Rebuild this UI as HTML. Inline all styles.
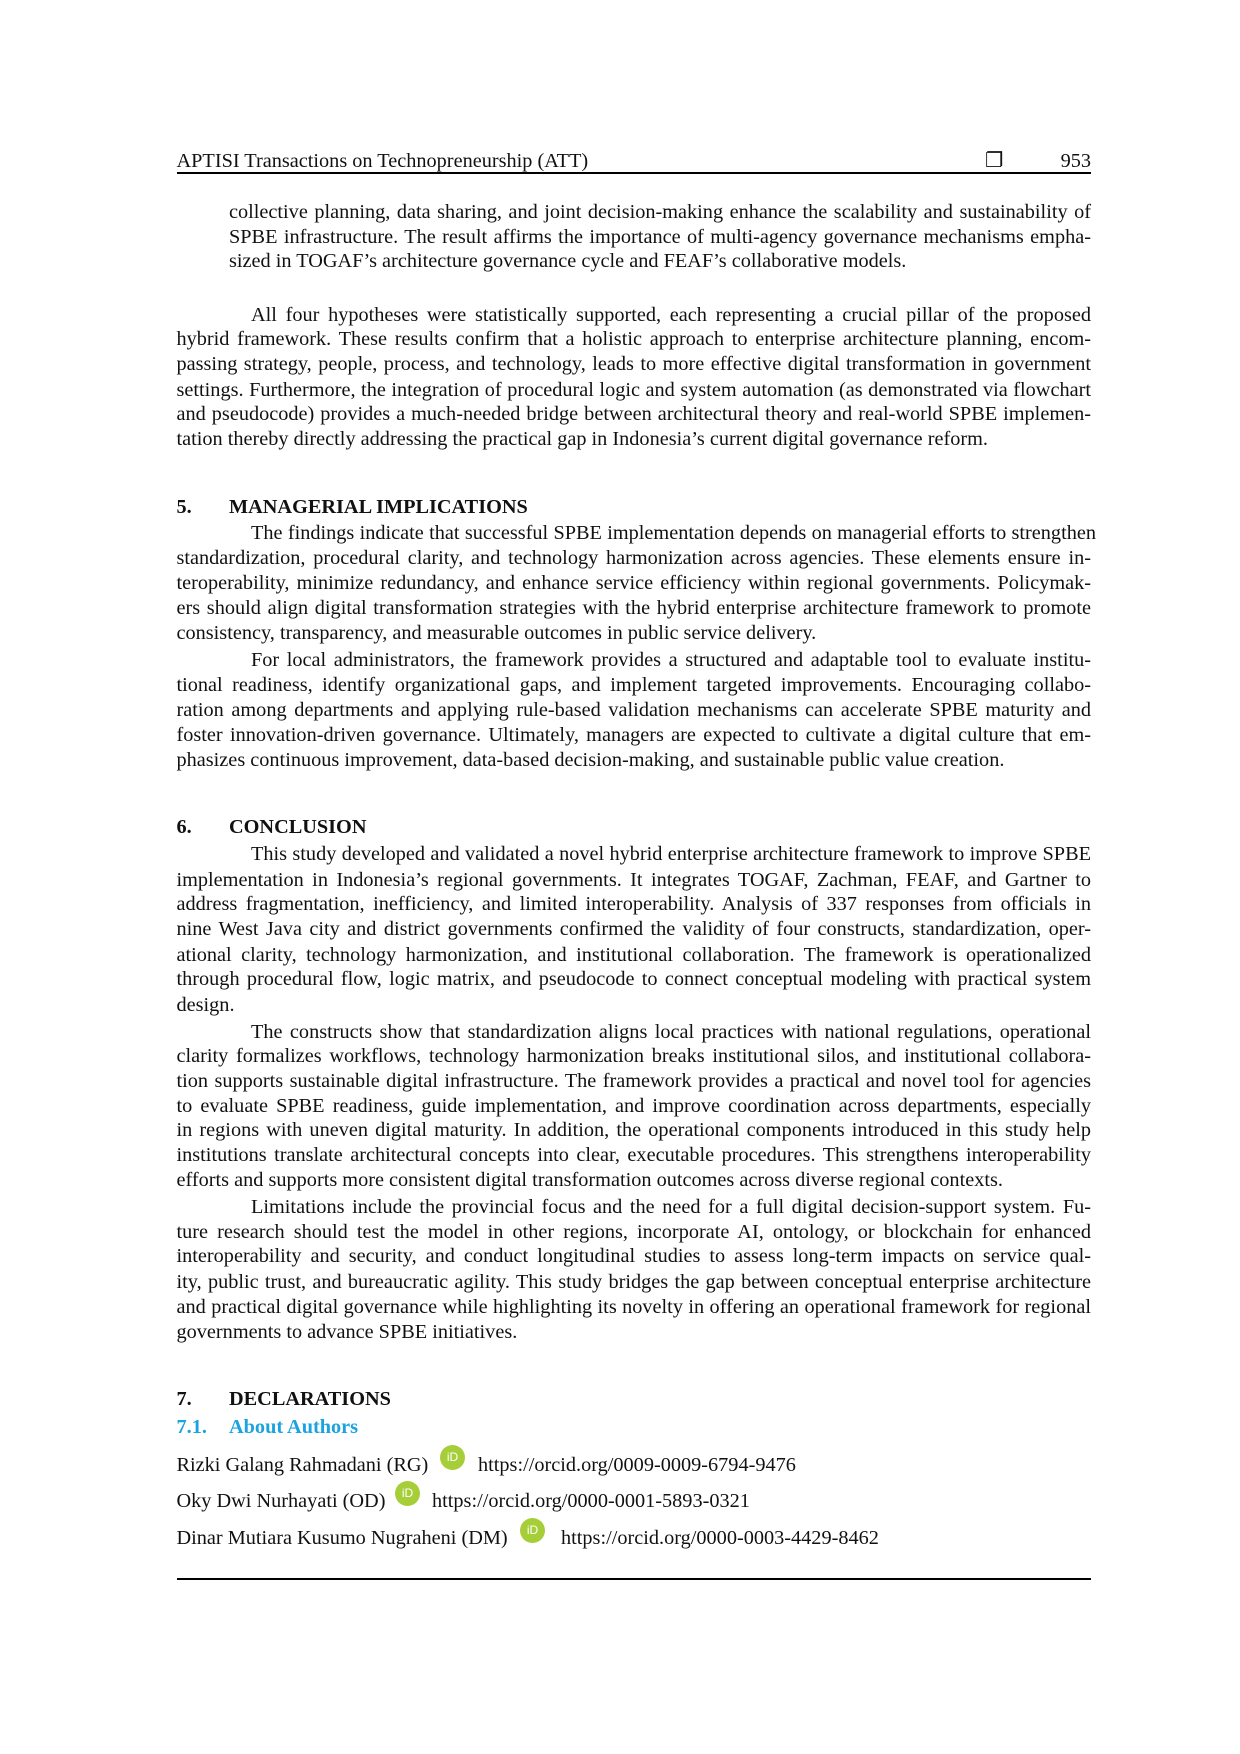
<!DOCTYPE html>
<html><head><meta charset="utf-8">
<style>
html,body{margin:0;padding:0;background:#fff;}
body{width:1240px;height:1754px;position:relative;overflow:hidden;font-family:"Liberation Serif",serif;font-size:20.3px;color:#111;}
#w{position:absolute;left:0;top:3px;width:1240px;height:1750px;}
.l{position:absolute;left:176.5px;width:914.5px;height:24px;line-height:24px;white-space:nowrap;}
.j{text-align:justify;text-align-last:justify;white-space:normal;word-spacing:-1.5px;}
.i1{left:251px;width:840px;}
.ib{left:229px;width:862px;}
.h{font-weight:bold;}
.h span{position:absolute;left:52.5px;}
.rule{position:absolute;left:176.5px;width:914.5px;background:#000;}
.orc{position:absolute;width:25px;height:25px;border-radius:50%;background:#a6ce39;color:#fff;font-family:"Liberation Sans",sans-serif;font-size:12px;line-height:25px;text-align:center;}
</style></head><body><div id="w">
<div class="l" style="top:145.5px">APTISI Transactions on Technopreneurship (ATT)</div>
<div class="l" style="top:145.5px;left:985px;width:30px">❐</div>
<div class="l" style="top:145.5px;left:1058px;width:33px;text-align:right">953</div>
<div class="rule" style="top:169px;height:2px"></div>

<div class="l j ib" style="top:197px">collective planning, data sharing, and joint decision-making enhance the scalability and sustainability of</div>
<div class="l j ib" style="top:221.5px">SPBE infrastructure. The result affirms the importance of multi-agency governance mechanisms empha-</div>
<div class="l ib" style="top:246px">sized in TOGAF’s architecture governance cycle and FEAF’s collaborative models.</div>

<div class="l j i1" style="top:299.6px">All four hypotheses were statistically supported, each representing a crucial pillar of the proposed</div>
<div class="l j" style="top:324px">hybrid framework. These results confirm that a holistic approach to enterprise architecture planning, encom-</div>
<div class="l j" style="top:349px">passing strategy, people, process, and technology, leads to more effective digital transformation in government</div>
<div class="l j" style="top:374.5px">settings. Furthermore, the integration of procedural logic and system automation (as demonstrated via flowchart</div>
<div class="l j" style="top:399px">and pseudocode) provides a much-needed bridge between architectural theory and real-world SPBE implemen-</div>
<div class="l" style="top:423.6px">tation thereby directly addressing the practical gap in Indonesia’s current digital governance reform.</div>

<div class="l h" style="top:492px">5.<span>MANAGERIAL IMPLICATIONS</span></div>
<div class="l j i1" style="top:518px;width:845px">The findings indicate that successful SPBE implementation depends on managerial efforts to strengthen</div>
<div class="l j" style="top:543px">standardization, procedural clarity, and technology harmonization across agencies. These elements ensure in-</div>
<div class="l j" style="top:568px">teroperability, minimize redundancy, and enhance service efficiency within regional governments. Policymak-</div>
<div class="l j" style="top:593px">ers should align digital transformation strategies with the hybrid enterprise architecture framework to promote</div>
<div class="l" style="top:618px">consistency, transparency, and measurable outcomes in public service delivery.</div>
<div class="l j i1" style="top:645px">For local administrators, the framework provides a structured and adaptable tool to evaluate institu-</div>
<div class="l j" style="top:670px">tional readiness, identify organizational gaps, and implement targeted improvements. Encouraging collabo-</div>
<div class="l j" style="top:694.5px">ration among departments and applying rule-based validation mechanisms can accelerate SPBE maturity and</div>
<div class="l j" style="top:719.6px">foster innovation-driven governance. Ultimately, managers are expected to cultivate a digital culture that em-</div>
<div class="l" style="top:745px">phasizes continuous improvement, data-based decision-making, and sustainable public value creation.</div>

<div class="l h" style="top:812px">6.<span>CONCLUSION</span></div>
<div class="l j i1" style="top:839px">This study developed and validated a novel hybrid enterprise architecture framework to improve SPBE</div>
<div class="l j" style="top:865px">implementation in Indonesia’s regional governments. It integrates TOGAF, Zachman, FEAF, and Gartner to</div>
<div class="l j" style="top:889px">address fragmentation, inefficiency, and limited interoperability. Analysis of 337 responses from officials in</div>
<div class="l j" style="top:914px">nine West Java city and district governments confirmed the validity of four constructs, standardization, oper-</div>
<div class="l j" style="top:940px">ational clarity, technology harmonization, and institutional collaboration. The framework is operationalized</div>
<div class="l j" style="top:964px">through procedural flow, logic matrix, and pseudocode to connect conceptual modeling with practical system</div>
<div class="l" style="top:990px">design.</div>
<div class="l j i1" style="top:1017px">The constructs show that standardization aligns local practices with national regulations, operational</div>
<div class="l j" style="top:1041px">clarity formalizes workflows, technology harmonization breaks institutional silos, and institutional collabora-</div>
<div class="l j" style="top:1066px">tion supports sustainable digital infrastructure. The framework provides a practical and novel tool for agencies</div>
<div class="l j" style="top:1090.5px">to evaluate SPBE readiness, guide implementation, and improve coordination across departments, especially</div>
<div class="l j" style="top:1115px">in regions with uneven digital maturity. In addition, the operational components introduced in this study help</div>
<div class="l j" style="top:1140px">institutions translate architectural concepts into clear, executable procedures. This strengthens interoperability</div>
<div class="l" style="top:1165px">efforts and supports more consistent digital transformation outcomes across diverse regional contexts.</div>
<div class="l j i1" style="top:1192px">Limitations include the provincial focus and the need for a full digital decision-support system. Fu-</div>
<div class="l j" style="top:1217px">ture research should test the model in other regions, incorporate AI, ontology, or blockchain for enhanced</div>
<div class="l j" style="top:1241px">interoperability and security, and conduct longitudinal studies to assess long-term impacts on service qual-</div>
<div class="l j" style="top:1267px">ity, public trust, and bureaucratic agility. This study bridges the gap between conceptual enterprise architecture</div>
<div class="l j" style="top:1291.5px">and practical digital governance while highlighting its novelty in offering an operational framework for regional</div>
<div class="l" style="top:1317px">governments to advance SPBE initiatives.</div>

<div class="l h" style="top:1384px">7.<span>DECLARATIONS</span></div>
<div class="l h" style="top:1412px;color:#1aa3e0">7.1.<span>About Authors</span></div>

<div class="l" style="top:1450px">Rizki Galang Rahmadani (RG)</div>
<div class="orc" style="left:440px;top:1442px">iD</div>
<div class="l" style="top:1450px;left:478px;width:400px">https://orcid.org/0009-0009-6794-9476</div>
<div class="l" style="top:1486px">Oky Dwi Nurhayati (OD)</div>
<div class="orc" style="left:395px;top:1478px">iD</div>
<div class="l" style="top:1486px;left:432px;width:400px">https://orcid.org/0000-0001-5893-0321</div>
<div class="l" style="top:1523px">Dinar Mutiara Kusumo Nugraheni (DM)</div>
<div class="orc" style="left:520px;top:1515px">iD</div>
<div class="l" style="top:1523px;left:561px;width:400px">https://orcid.org/0000-0003-4429-8462</div>

<div class="rule" style="top:1575px;height:1.5px"></div>
</div></body></html>
